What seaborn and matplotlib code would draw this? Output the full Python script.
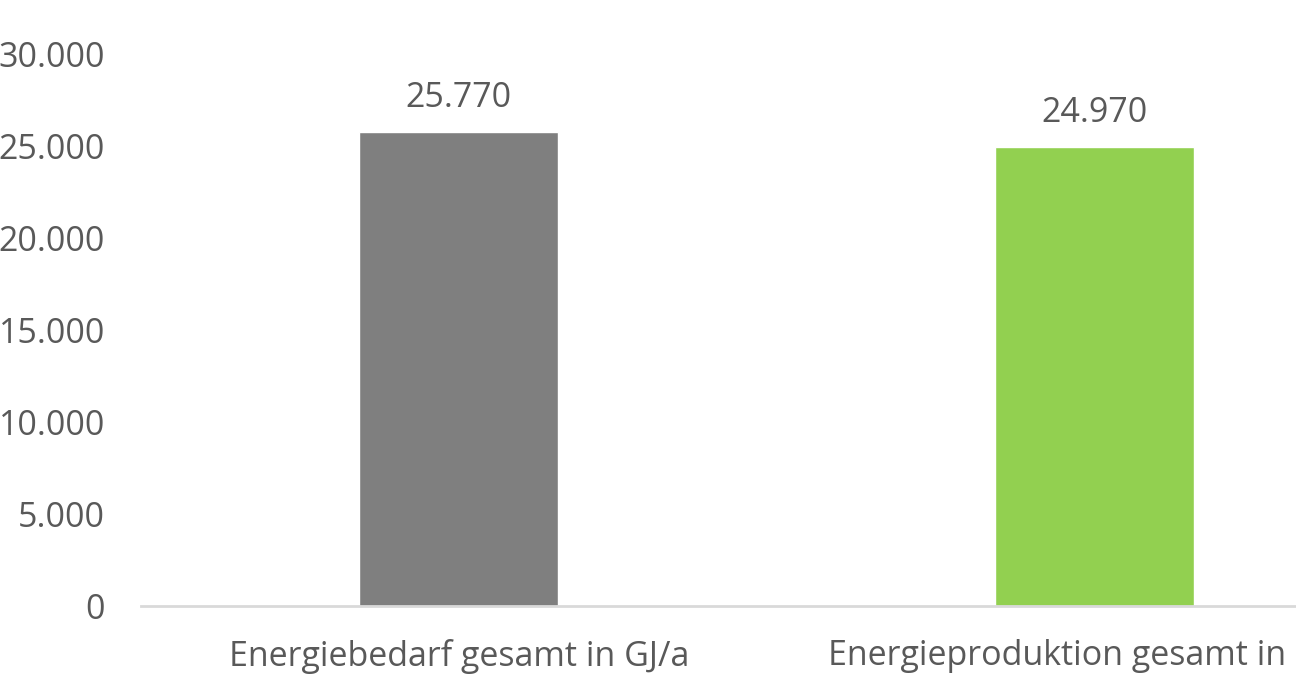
import matplotlib
matplotlib.use("Agg")
import matplotlib.pyplot as plt
import seaborn as sns
import pandas as pd

categories = ["Energiebedarf gesamt in GJ/a", "Energieproduktion gesamt in GJ/a"]
values = [25770, 24970]
bar_colors = ["#7f7f7f", "#92d050"]
yticks = [0, 5000, 10000, 15000, 20000, 25000, 30000]

sns.set_theme(style="white")
plt.rcParams["font.family"] = ["Open Sans", "DejaVu Sans"]
text_col = "#595959"

df = pd.DataFrame({"cat": categories, "val": values})

fig = plt.figure(figsize=(12.96, 6.86), dpi=100)
ax = fig.add_axes([141 / 1296, 80 / 686, 1271 / 1296, 552 / 686])
sns.barplot(data=df, x="cat", y="val", hue="cat", palette=bar_colors,
            width=0.313, legend=False, ax=ax, saturation=1)

ax.set_ylim(0, 30000)
ax.set_xlim(-0.5, 1.5)
ax.set_yticks(yticks)
ax.set_yticklabels([f"{v:,}".replace(",", ".") for v in yticks])
ax.set_xlabel("")
ax.set_ylabel("")
for s in ["top", "right", "left"]:
    ax.spines[s].set_visible(False)
ax.spines["bottom"].set_color("#d9d9d9")
ax.spines["bottom"].set_linewidth(2)
ax.tick_params(axis="y", length=0, pad=26, labelsize=24.5, labelcolor=text_col)
ax.tick_params(axis="x", length=0, pad=24, labelsize=24.5, labelcolor=text_col)

for i, v in enumerate(values):
    ax.annotate(f"{v:,}".replace(",", "."), (i, v), xytext=(0, 12),
                textcoords="offset points", ha="center", va="bottom",
                fontsize=24.5, color=text_col)

fig.savefig("out.png", dpi=100)
